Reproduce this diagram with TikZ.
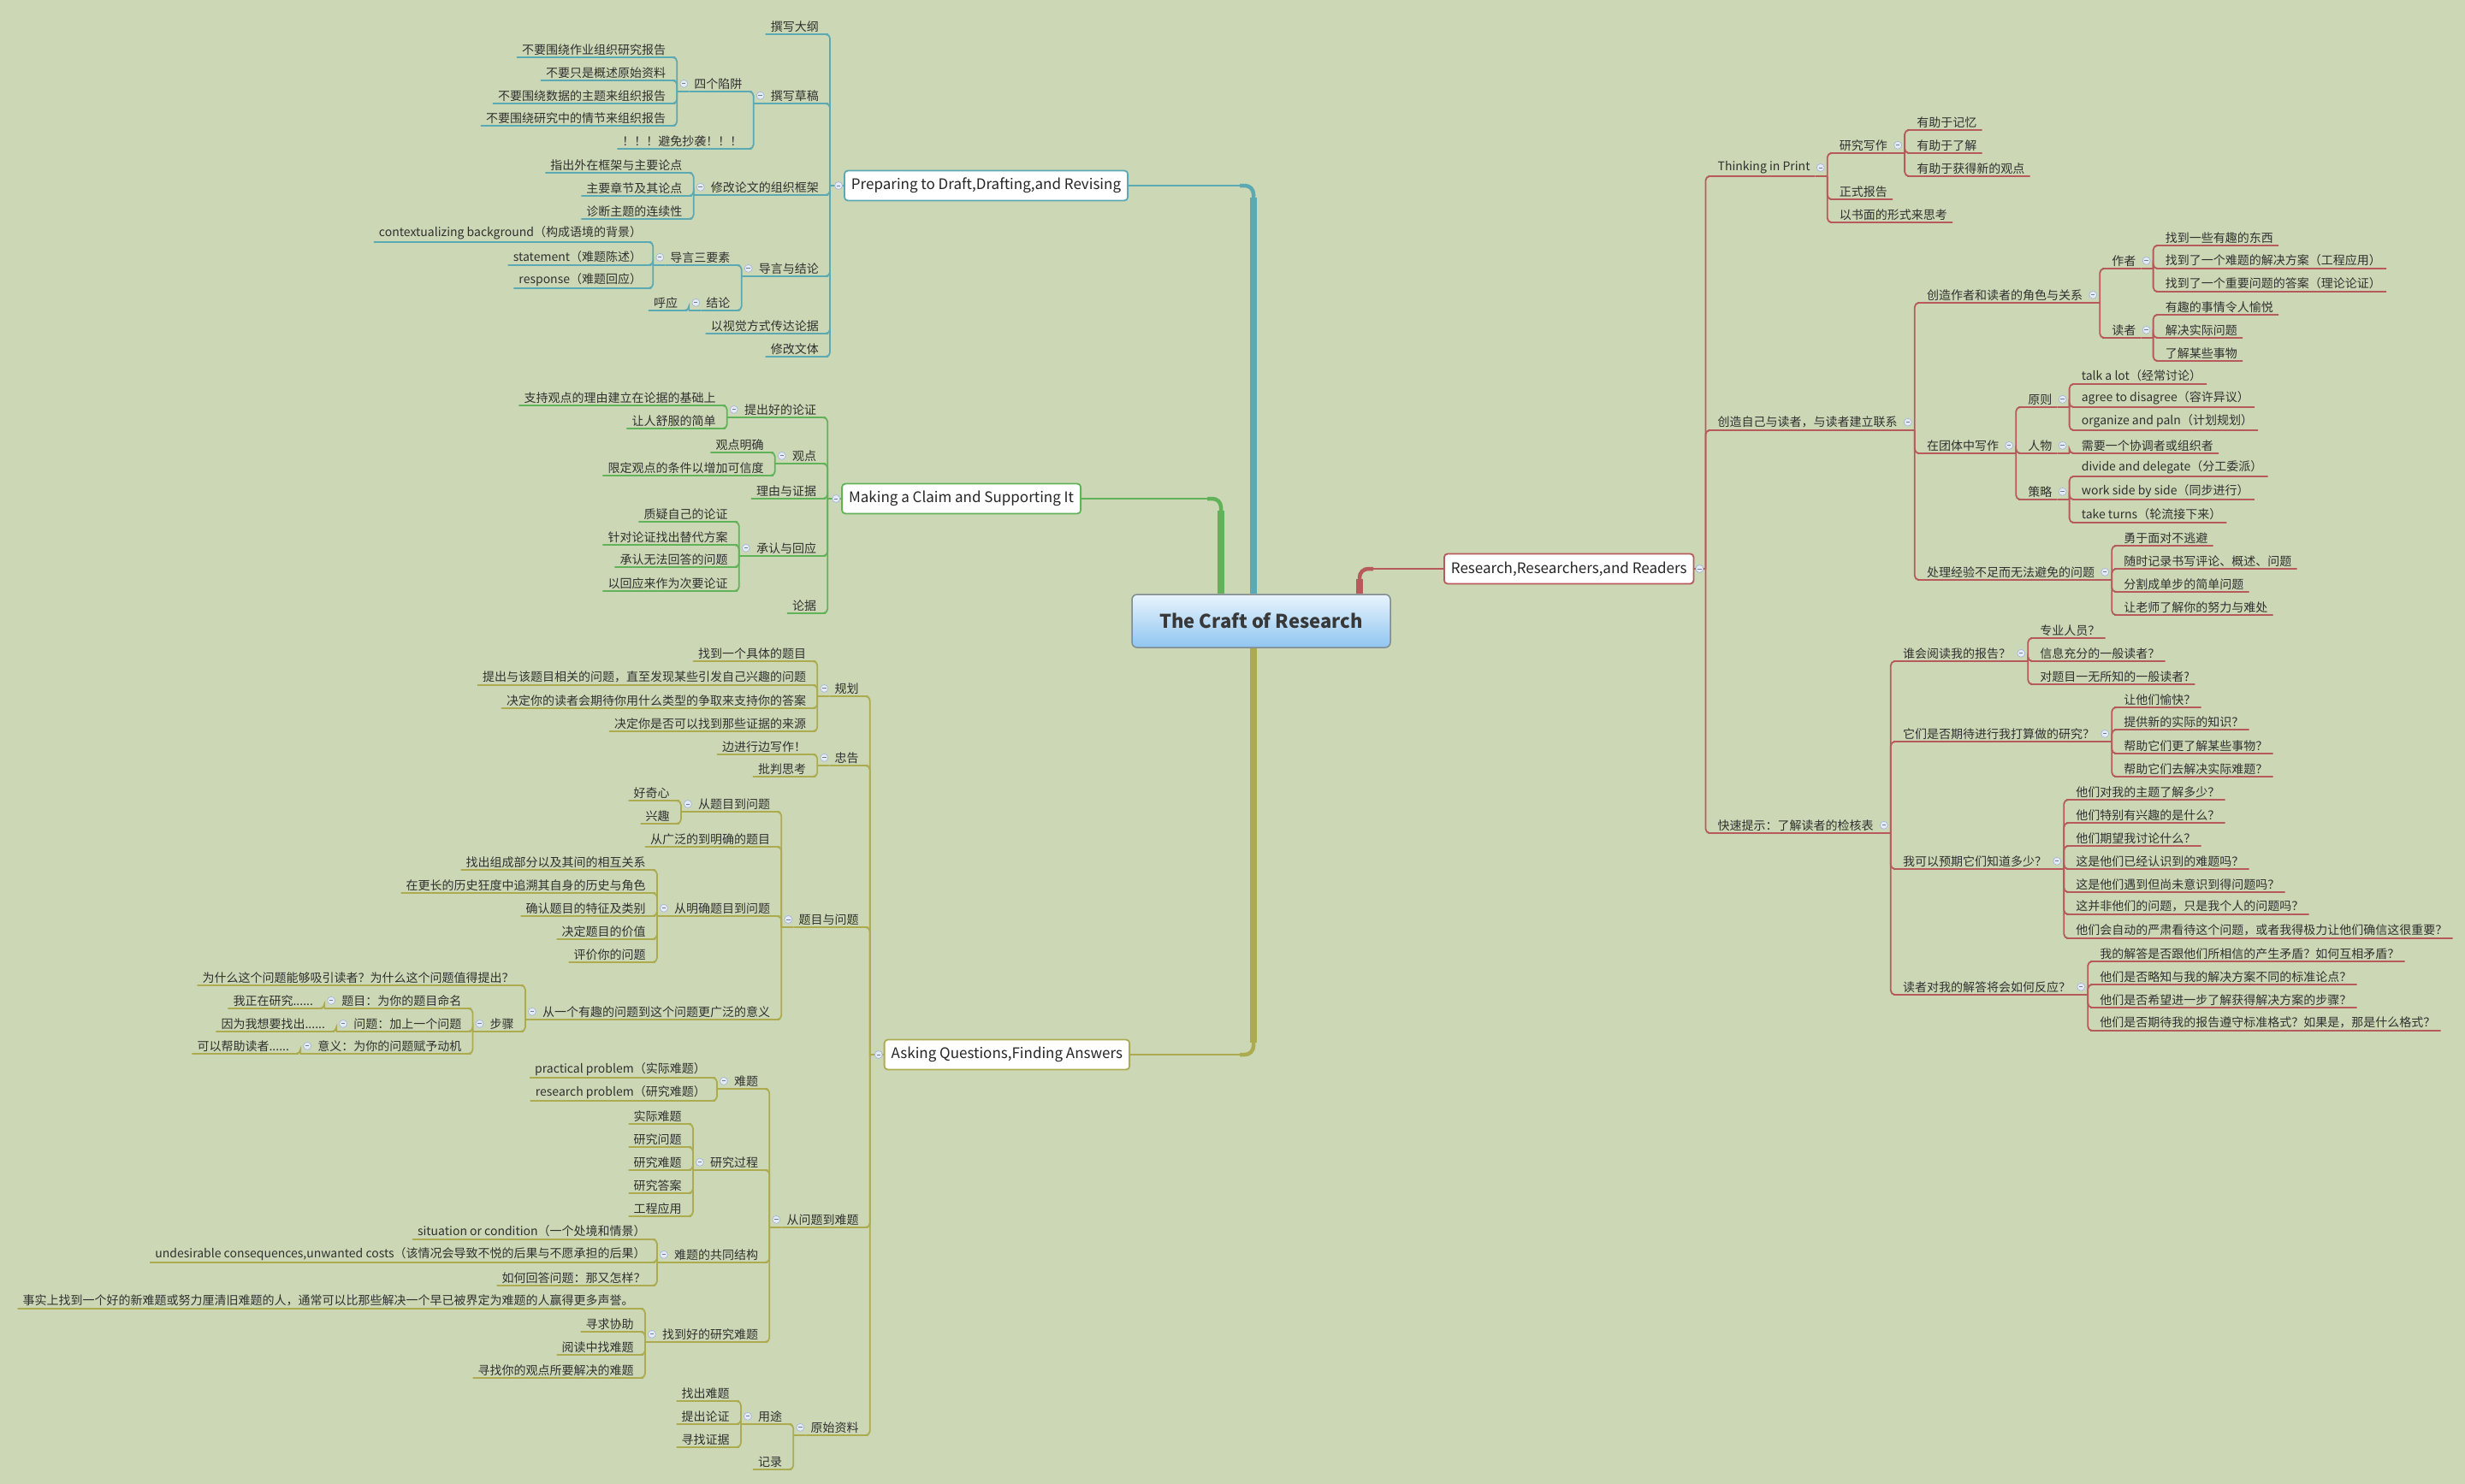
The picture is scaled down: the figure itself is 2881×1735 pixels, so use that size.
\documentclass[tikz,border=0pt]{standalone}
\usepackage{fontspec}
\setmainfont{Noto Sans CJK SC}
\usepackage{tikz}
\usetikzlibrary{positioning,calc}
\definecolor{bgcol}{HTML}{CCD8B5}
\definecolor{cteal}{HTML}{5BA9B3}
\definecolor{cgreen}{HTML}{62B25A}
\definecolor{colive}{HTML}{ADAB4F}
\definecolor{cred}{HTML}{B65A5C}
\definecolor{txtcol}{HTML}{303030}
\definecolor{rtop}{HTML}{E8F4FD}
\definecolor{rbot}{HTML}{90C5F0}
\definecolor{rline}{HTML}{7F8B90}
\definecolor{foldfill}{HTML}{E4EBF7}
\definecolor{foldline}{HTML}{9EB2D6}

\begin{document}
\begin{tikzpicture}[x=1pt, y=-1pt,
  topic/.style={inner xsep=6pt, inner ysep=2.5pt, text=txtcol, font=\fontsize{14}{16}\selectfont},
  tl/.style={topic, anchor=south east, xshift=-7pt},
  tr/.style={topic, anchor=south west, xshift=8pt},
  mainbox/.style={fill=white, rounded corners=4pt, line width=1.8pt, inner xsep=8pt, minimum height=35pt, text=black!85, font=\fontsize{17}{20}\selectfont},
  rootbox/.style={draw=rline, line width=1.5pt, rounded corners=6pt, top color=rtop, bottom color=rbot, minimum width=302pt, minimum height=62pt, text=black!78, font=\fontsize{22}{26}\selectfont\bfseries},
  foldmark/.style={circle, draw=foldline, fill=foldfill, line width=0.6pt, minimum size=9pt, inner sep=0pt,
    path picture={\draw[foldline!70!black, line width=0.9pt] ([xshift=-2.2pt]path picture bounding box.center) -- ([xshift=2.2pt]path picture bounding box.center);}},
  bteal/.style={draw=cteal, line width=1.8pt, rounded corners=5pt},
  bgreen/.style={draw=cgreen, line width=1.8pt, rounded corners=5pt},
  bolive/.style={draw=colive, line width=1.8pt, rounded corners=5pt},
  bred/.style={draw=cred, line width=1.8pt, rounded corners=5pt},
  trunkw/.style={line width=8pt},
  bendw/.style={line width=4.5pt, rounded corners=10pt},
  linkw/.style={line width=2pt}
]
  \fill[bgcol] (0,0) rectangle (2881,1735);
  \useasboundingbox (0,0) rectangle (2881,1735);

  %% Root
  \node[rootbox] (root) at (1474,726) {The Craft of Research};

  %% Preparing to Draft
  \node[mainbox, draw=cteal, anchor=east] (prep) at (1319,217) {Preparing to Draft,Drafting,and Revising};
  \coordinate (prep-s) at ([xshift=-16pt]prep.west);
  \node[tl] (p1) at (prep-s |- 0,40) {撰写大纲};
  \node[tl] (p2) at (prep-s |- 0,121) {撰写草稿};
  \coordinate (p2-s) at ([xshift=-14pt]p2.south west);
  \node[tl] (p21) at (p2-s |- 0,107) {四个陷阱};
  \coordinate (p21-s) at ([xshift=-14pt]p21.south west);
  \node[tl] (p211) at (p21-s |- 0,67) {不要围绕作业组织研究报告};
  \node[tl] (p212) at (p21-s |- 0,94) {不要只是概述原始资料};
  \node[tl] (p213) at (p21-s |- 0,121) {不要围绕数据的主题来组织报告};
  \node[tl] (p214) at (p21-s |- 0,147) {不要围绕研究中的情节来组织报告};
  \node[tl] (p22) at (p2-s |- 0,174) {！！！避免抄袭！！！};
  \node[tl] (p3) at (prep-s |- 0,228) {修改论文的组织框架};
  \coordinate (p3-s) at ([xshift=-14pt]p3.south west);
  \node[tl] (p31) at (p3-s |- 0,202) {指出外在框架与主要论点};
  \node[tl] (p32) at (p3-s |- 0,229) {主要章节及其论点};
  \node[tl] (p33) at (p3-s |- 0,256) {诊断主题的连续性};
  \node[tl] (p4) at (prep-s |- 0,323) {导言与结论};
  \coordinate (p4-s) at ([xshift=-14pt]p4.south west);
  \node[tl] (p41) at (p4-s |- 0,310) {导言三要素};
  \coordinate (p41-s) at ([xshift=-14pt]p41.south west);
  \node[tl] (p411) at (p41-s |- 0,283) {contextualizing background（构成语境的背景）};
  \node[tl] (p412) at (p41-s |- 0,310) {statement（难题陈述）};
  \node[tl] (p413) at (p41-s |- 0,337) {response（难题回应）};
  \node[tl] (p42) at (p4-s |- 0,363) {结论};
  \coordinate (p42-s) at ([xshift=-14pt]p42.south west);
  \node[tl] (p421) at (p42-s |- 0,363) {呼应};
  \node[tl] (p5) at (prep-s |- 0,390) {以视觉方式传达论据};
  \node[tl] (p6) at (prep-s |- 0,417) {修改文体};

  \draw[bteal] (prep.west) -- (prep-s);
  \foreach \a/\b in {prep/p1,prep/p2,prep/p3,prep/p4,prep/p5,prep/p6,p2/p21,p2/p22,p21/p211,p21/p212,p21/p213,p21/p214,
                     p3/p31,p3/p32,p3/p33,p4/p41,p4/p42,p41/p411,p41/p412,p41/p413,p42/p421}
    \draw[bteal] (\a-s) |- (\b.south east) -- (\b.south west);
  \foreach \p in {p2,p21,p3,p4,p41,p42}
    \draw[bteal] (\p.south west) -- (\p-s);

  %% Making a Claim
  \node[mainbox, draw=cgreen, anchor=east] (make) at (1264,583) {Making a Claim and Supporting It};
  \coordinate (make-s) at ([xshift=-16pt]make.west);
  \node[tl] (m1) at (make-s |- 0,488) {提出好的论证};
  \coordinate (m1-s) at ([xshift=-14pt]m1.south west);
  \node[tl] (m11) at (m1-s |- 0,474) {支持观点的理由建立在论据的基础上};
  \node[tl] (m12) at (m1-s |- 0,501) {让人舒服的简单};
  \node[tl] (m2) at (make-s |- 0,542) {观点};
  \coordinate (m2-s) at ([xshift=-14pt]m2.south west);
  \node[tl] (m21) at (m2-s |- 0,529) {观点明确};
  \node[tl] (m22) at (m2-s |- 0,556) {限定观点的条件以增加可信度};
  \node[tl] (m3) at (make-s |- 0,583) {理由与证据};
  \node[tl] (m4) at (make-s |- 0,650) {承认与回应};
  \coordinate (m4-s) at ([xshift=-14pt]m4.south west);
  \node[tl] (m41) at (m4-s |- 0,610) {质疑自己的论证};
  \node[tl] (m42) at (m4-s |- 0,637) {针对论证找出替代方案};
  \node[tl] (m43) at (m4-s |- 0,663) {承认无法回答的问题};
  \node[tl] (m44) at (m4-s |- 0,691) {以回应来作为次要论证};
  \node[tl] (m5) at (make-s |- 0,717) {论据};

  \draw[bgreen] (make.west) -- (make-s);
  \foreach \a/\b in {make/m1,make/m2,make/m3,make/m4,make/m5,m1/m11,m1/m12,m2/m21,m2/m22,m4/m41,m4/m42,m4/m43,m4/m44}
    \draw[bgreen] (\a-s) |- (\b.south east) -- (\b.south west);
  \foreach \p in {m1,m2,m4}
    \draw[bgreen] (\p.south west) -- (\p-s);

  %% Asking Questions
  \node[mainbox, draw=colive, anchor=east] (ask) at (1321,1233) {Asking Questions,Finding Answers};
  \coordinate (ask-s) at ([xshift=-16pt]ask.west);
  \node[tl] (a1) at (ask-s |- 0,814) {规划};
  \coordinate (a1-s) at ([xshift=-14pt]a1.south west);
  \node[tl] (a11) at (a1-s |- 0,773) {找到一个具体的题目};
  \node[tl] (a12) at (a1-s |- 0,801) {提出与该题目相关的问题，直至发现某些引发自己兴趣的问题};
  \node[tl] (a13) at (a1-s |- 0,828) {决定你的读者会期待你用什么类型的争取来支持你的答案};
  \node[tl] (a14) at (a1-s |- 0,855) {决定你是否可以找到那些证据的来源};
  \node[tl] (a2) at (ask-s |- 0,895) {忠告};
  \coordinate (a2-s) at ([xshift=-14pt]a2.south west);
  \node[tl] (a21) at (a2-s |- 0,882) {边进行边写作！};
  \node[tl] (a22) at (a2-s |- 0,908) {批判思考};
  \node[tl] (a3) at (ask-s |- 0,1084) {题目与问题};
  \coordinate (a3-s) at ([xshift=-14pt]a3.south west);
  \node[tl] (a31) at (a3-s |- 0,949) {从题目到问题};
  \coordinate (a31-s) at ([xshift=-14pt]a31.south west);
  \node[tl] (a311) at (a31-s |- 0,936) {好奇心};
  \node[tl] (a312) at (a31-s |- 0,963) {兴趣};
  \node[tl] (a32) at (a3-s |- 0,990) {从广泛的到明确的题目};
  \node[tl] (a33) at (a3-s |- 0,1071) {从明确题目到问题};
  \coordinate (a33-s) at ([xshift=-14pt]a33.south west);
  \node[tl] (a331) at (a33-s |- 0,1017) {找出组成部分以及其间的相互关系};
  \node[tl] (a332) at (a33-s |- 0,1044) {在更长的历史狂度中追溯其自身的历史与角色};
  \node[tl] (a333) at (a33-s |- 0,1071) {确认题目的特征及类别};
  \node[tl] (a334) at (a33-s |- 0,1098) {决定题目的价值};
  \node[tl] (a335) at (a33-s |- 0,1125) {评价你的问题};
  \node[tl] (a34) at (a3-s |- 0,1192) {从一个有趣的问题到这个问题更广泛的意义};
  \coordinate (a34-s) at ([xshift=-14pt]a34.south west);
  \node[tl] (a341) at (a34-s |- 0,1152) {为什么这个问题能够吸引读者？为什么这个问题值得提出？};
  \node[tl] (a342) at (a34-s |- 0,1206) {步骤};
  \coordinate (a342-s) at ([xshift=-14pt]a342.south west);
  \node[tl] (a3421) at (a342-s |- 0,1179) {题目：为你的题目命名};
  \coordinate (a3421-s) at ([xshift=-14pt]a3421.south west);
  \node[tl] (a34211) at (a3421-s |- 0,1179) {我正在研究......};
  \node[tl] (a3422) at (a342-s |- 0,1206) {问题：加上一个问题};
  \coordinate (a3422-s) at ([xshift=-14pt]a3422.south west);
  \node[tl] (a34221) at (a3422-s |- 0,1206) {因为我想要找出......};
  \node[tl] (a3423) at (a342-s |- 0,1232) {意义：为你的问题赋予动机};
  \coordinate (a3423-s) at ([xshift=-14pt]a3423.south west);
  \node[tl] (a34231) at (a3423-s |- 0,1232) {可以帮助读者......};
  \node[tl] (a4) at (ask-s |- 0,1435) {从问题到难题};
  \coordinate (a4-s) at ([xshift=-14pt]a4.south west);
  \node[tl] (a41) at (a4-s |- 0,1273) {难题};
  \coordinate (a41-s) at ([xshift=-14pt]a41.south west);
  \node[tl] (a411) at (a41-s |- 0,1260) {practical problem（实际难题）};
  \node[tl] (a412) at (a41-s |- 0,1287) {research problem（研究难题）};
  \node[tl] (a42) at (a4-s |- 0,1368) {研究过程};
  \coordinate (a42-s) at ([xshift=-14pt]a42.south west);
  \node[tl] (a421) at (a42-s |- 0,1314) {实际难题};
  \node[tl] (a422) at (a42-s |- 0,1341) {研究问题};
  \node[tl] (a423) at (a42-s |- 0,1368) {研究难题};
  \node[tl] (a424) at (a42-s |- 0,1395) {研究答案};
  \node[tl] (a425) at (a42-s |- 0,1422) {工程应用};
  \node[tl] (a43) at (a4-s |- 0,1476) {难题的共同结构};
  \coordinate (a43-s) at ([xshift=-14pt]a43.south west);
  \node[tl] (a431) at (a43-s |- 0,1449) {situation or condition（一个处境和情景）};
  \node[tl] (a432) at (a43-s |- 0,1476) {undesirable consequences,unwanted costs（该情况会导致不悦的后果与不愿承担的后果）};
  \node[tl] (a433) at (a43-s |- 0,1503) {如何回答问题：那又怎样？};
  \node[tl] (a44) at (a4-s |- 0,1569) {找到好的研究难题};
  \coordinate (a44-s) at ([xshift=-14pt]a44.south west);
  \node[tl] (a441) at (a44-s |- 0,1530) {事实上找到一个好的新难题或努力厘清旧难题的人，通常可以比那些解决一个早已被界定为难题的人赢得更多声誉。};
  \node[tl] (a442) at (a44-s |- 0,1557) {寻求协助};
  \node[tl] (a443) at (a44-s |- 0,1584) {阅读中找难题};
  \node[tl] (a444) at (a44-s |- 0,1611) {寻找你的观点所要解决的难题};
  \node[tl] (a5) at (ask-s |- 0,1678) {原始资料};
  \coordinate (a5-s) at ([xshift=-14pt]a5.south west);
  \node[tl] (a51) at (a5-s |- 0,1665) {用途};
  \coordinate (a51-s) at ([xshift=-14pt]a51.south west);
  \node[tl] (a511) at (a51-s |- 0,1638) {找出难题};
  \node[tl] (a512) at (a51-s |- 0,1665) {提出论证};
  \node[tl] (a513) at (a51-s |- 0,1692) {寻找证据};
  \node[tl] (a52) at (a5-s |- 0,1718) {记录};

  \draw[bolive] (ask.west) -- (ask-s);
  \foreach \a/\b in {ask/a1,ask/a2,ask/a3,ask/a4,ask/a5,a1/a11,a1/a12,a1/a13,a1/a14,a2/a21,a2/a22,
                     a3/a31,a3/a32,a3/a33,a3/a34,a31/a311,a31/a312,a33/a331,a33/a332,a33/a333,a33/a334,a33/a335,
                     a34/a341,a34/a342,a342/a3421,a342/a3422,a342/a3423,a3421/a34211,a3422/a34221,a3423/a34231,
                     a4/a41,a4/a42,a4/a43,a4/a44,a41/a411,a41/a412,a42/a421,a42/a422,a42/a423,a42/a424,a42/a425,
                     a43/a431,a43/a432,a43/a433,a44/a441,a44/a442,a44/a443,a44/a444,a5/a51,a5/a52,a51/a511,a51/a512,a51/a513}
    \draw[bolive] (\a-s) |- (\b.south east) -- (\b.south west);
  \foreach \p in {a1,a2,a3,a31,a33,a34,a342,a3421,a3422,a3423,a4,a41,a42,a43,a44,a5,a51}
    \draw[bolive] (\p.south west) -- (\p-s);

  %% Research, Researchers, and Readers
  \node[mainbox, draw=cred, anchor=west] (res) at (1687,665) {Research,Researchers,and Readers};
  \coordinate (res-s) at ([xshift=13pt]res.east);
  \node[tr] (r1) at (res-s |- 0,206) {Thinking in Print};
  \coordinate (r1-s) at ([xshift=14pt]r1.south east);
  \node[tr] (r11) at (r1-s |- 0,179) {研究写作};
  \coordinate (r11-s) at ([xshift=14pt]r11.south east);
  \node[tr] (r111) at (r11-s |- 0,152) {有助于记忆};
  \node[tr] (r112) at (r11-s |- 0,179) {有助于了解};
  \node[tr] (r113) at (r11-s |- 0,206) {有助于获得新的观点};
  \node[tr] (r12) at (r1-s |- 0,233) {正式报告};
  \node[tr] (r13) at (r1-s |- 0,260) {以书面的形式来思考};
  \node[tr] (r2) at (res-s |- 0,503) {创造自己与读者，与读者建立联系};
  \coordinate (r2-s) at ([xshift=14pt]r2.south east);
  \node[tr] (r21) at (r2-s |- 0,354) {创造作者和读者的角色与关系};
  \coordinate (r21-s) at ([xshift=14pt]r21.south east);
  \node[tr] (r211) at (r21-s |- 0,314) {作者};
  \coordinate (r211-s) at ([xshift=14pt]r211.south east);
  \node[tr] (r2111) at (r211-s |- 0,287) {找到一些有趣的东西};
  \node[tr] (r2112) at (r211-s |- 0,314) {找到了一个难题的解决方案（工程应用）};
  \node[tr] (r2113) at (r211-s |- 0,341) {找到了一个重要问题的答案（理论论证）};
  \node[tr] (r212) at (r21-s |- 0,395) {读者};
  \coordinate (r212-s) at ([xshift=14pt]r212.south east);
  \node[tr] (r2121) at (r212-s |- 0,368) {有趣的事情令人愉悦};
  \node[tr] (r2122) at (r212-s |- 0,395) {解决实际问题};
  \node[tr] (r2123) at (r212-s |- 0,422) {了解某些事物};
  \node[tr] (r22) at (r2-s |- 0,530) {在团体中写作};
  \coordinate (r22-s) at ([xshift=14pt]r22.south east);
  \node[tr] (r221) at (r22-s |- 0,476) {原则};
  \coordinate (r221-s) at ([xshift=14pt]r221.south east);
  \node[tr] (r2211) at (r221-s |- 0,449) {talk a lot（经常讨论）};
  \node[tr] (r2212) at (r221-s |- 0,476) {agree to disagree（容许异议）};
  \node[tr] (r2213) at (r221-s |- 0,503) {organize and paln（计划规划）};
  \node[tr] (r222) at (r22-s |- 0,530) {人物};
  \coordinate (r222-s) at ([xshift=14pt]r222.south east);
  \node[tr] (r2221) at (r222-s |- 0,530) {需要一个协调者或组织者};
  \node[tr] (r223) at (r22-s |- 0,584) {策略};
  \coordinate (r223-s) at ([xshift=14pt]r223.south east);
  \node[tr] (r2231) at (r223-s |- 0,557) {divide and delegate（分工委派）};
  \node[tr] (r2232) at (r223-s |- 0,584) {work side by side（同步进行）};
  \node[tr] (r2233) at (r223-s |- 0,611) {take turns（轮流接下来）};
  \node[tr] (r23) at (r2-s |- 0,678) {处理经验不足而无法避免的问题};
  \coordinate (r23-s) at ([xshift=14pt]r23.south east);
  \node[tr] (r231) at (r23-s |- 0,638) {勇于面对不逃避};
  \node[tr] (r232) at (r23-s |- 0,665) {随时记录书写评论、概述、问题};
  \node[tr] (r233) at (r23-s |- 0,692) {分割成单步的简单问题};
  \node[tr] (r234) at (r23-s |- 0,719) {让老师了解你的努力与难处};
  \node[tr] (r3) at (res-s |- 0,974) {快速提示：了解读者的检核表};
  \coordinate (r3-s) at ([xshift=14pt]r3.south east);
  \node[tr] (r31) at (r3-s |- 0,773) {谁会阅读我的报告？};
  \coordinate (r31-s) at ([xshift=14pt]r31.south east);
  \node[tr] (r311) at (r31-s |- 0,746) {专业人员？};
  \node[tr] (r312) at (r31-s |- 0,773) {信息充分的一般读者？};
  \node[tr] (r313) at (r31-s |- 0,800) {对题目一无所知的一般读者?};
  \node[tr] (r32) at (r3-s |- 0,867) {它们是否期待进行我打算做的研究？};
  \coordinate (r32-s) at ([xshift=14pt]r32.south east);
  \node[tr] (r321) at (r32-s |- 0,827) {让他们愉快？};
  \node[tr] (r322) at (r32-s |- 0,853) {提供新的实际的知识？};
  \node[tr] (r323) at (r32-s |- 0,881) {帮助它们更了解某些事物？};
  \node[tr] (r324) at (r32-s |- 0,908) {帮助它们去解决实际难题？};
  \node[tr] (r33) at (r3-s |- 0,1016) {我可以预期它们知道多少？};
  \coordinate (r33-s) at ([xshift=14pt]r33.south east);
  \node[tr] (r331) at (r33-s |- 0,935) {他们对我的主题了解多少？};
  \node[tr] (r332) at (r33-s |- 0,962) {他们特别有兴趣的是什么？};
  \node[tr] (r333) at (r33-s |- 0,989) {他们期望我讨论什么？};
  \node[tr] (r334) at (r33-s |- 0,1016) {这是他们已经认识到的难题吗？};
  \node[tr] (r335) at (r33-s |- 0,1043) {这是他们遇到但尚未意识到得问题吗？};
  \node[tr] (r336) at (r33-s |- 0,1069) {这并非他们的问题，只是我个人的问题吗？};
  \node[tr] (r337) at (r33-s |- 0,1097) {他们会自动的严肃看待这个问题，或者我得极力让他们确信这很重要？};
  \node[tr] (r34) at (r3-s |- 0,1163) {读者对我的解答将会如何反应？};
  \coordinate (r34-s) at ([xshift=14pt]r34.south east);
  \node[tr] (r341) at (r34-s |- 0,1124) {我的解答是否跟他们所相信的产生矛盾？如何互相矛盾？};
  \node[tr] (r342) at (r34-s |- 0,1151) {他们是否略知与我的解决方案不同的标准论点？};
  \node[tr] (r343) at (r34-s |- 0,1178) {他们是否希望进一步了解获得解决方案的步骤？};
  \node[tr] (r344) at (r34-s |- 0,1205) {他们是否期待我的报告遵守标准格式？如果是，那是什么格式？};

  \draw[bred] (res.east) -- (res-s);
  \foreach \a/\b in {res/r1,res/r2,res/r3,r1/r11,r1/r12,r1/r13,r11/r111,r11/r112,r11/r113,
                     r2/r21,r2/r22,r2/r23,r21/r211,r21/r212,r211/r2111,r211/r2112,r211/r2113,r212/r2121,r212/r2122,r212/r2123,
                     r22/r221,r22/r222,r22/r223,r221/r2211,r221/r2212,r221/r2213,r222/r2221,r223/r2231,r223/r2232,r223/r2233,
                     r23/r231,r23/r232,r23/r233,r23/r234,r3/r31,r3/r32,r3/r33,r3/r34,r31/r311,r31/r312,r31/r313,
                     r32/r321,r32/r322,r32/r323,r32/r324,r33/r331,r33/r332,r33/r333,r33/r334,r33/r335,r33/r336,r33/r337,
                     r34/r341,r34/r342,r34/r343,r34/r344}
    \draw[bred] (\a-s) |- (\b.south west) -- (\b.south east);
  \foreach \p in {r1,r11,r2,r21,r211,r212,r22,r221,r222,r223,r23,r3,r31,r32,r33,r34}
    \draw[bred] (\p.south east) -- (\p-s);

  %% Trunks from the root
  \coordinate (tk-prep) at (1465,217);
  \coordinate (tk-make) at (1427,583);
  \coordinate (tk-ask) at (1465,1233);
  \coordinate (tk-res) at (1589,665);
  \draw[cteal, trunkw] (root.north -| tk-prep) -- ([yshift=-14pt]tk-prep);
  \draw[cteal, bendw] ([yshift=-16pt]tk-prep) |- ([xshift=-16pt]tk-prep);
  \draw[cteal, linkw] ([xshift=-14pt]tk-prep) -- (prep.east);
  \draw[cgreen, trunkw] (root.north -| tk-make) -- ([yshift=-14pt]tk-make);
  \draw[cgreen, bendw] ([yshift=-16pt]tk-make) |- ([xshift=-16pt]tk-make);
  \draw[cgreen, linkw] ([xshift=-14pt]tk-make) -- (make.east);
  \draw[colive, trunkw] (root.south -| tk-ask) -- ([yshift=14pt]tk-ask);
  \draw[colive, bendw] ([yshift=16pt]tk-ask) |- ([xshift=-16pt]tk-ask);
  \draw[colive, linkw] ([xshift=-14pt]tk-ask) -- (ask.east);
  \draw[cred, trunkw] (root.north -| tk-res) -- ([yshift=-12pt]tk-res);
  \draw[cred, bendw] ([yshift=-14pt]tk-res) |- ([xshift=16pt]tk-res);
  \draw[cred, linkw] ([xshift=14pt]tk-res) -- (res.west);

  %% Fold markers
  \foreach \p in {prep,p2,p21,p3,p4,p41,p42,make,m1,m2,m4,ask,a1,a2,a3,a31,a33,a34,a342,a3421,a3422,a3423,a4,a41,a42,a43,a44,a5,a51}
    \node[foldmark] (f-\p) at ([xshift=-6pt]\p.west) {};
  \foreach \p in {res,r1,r11,r2,r21,r211,r212,r22,r221,r222,r223,r23,r3,r31,r32,r33,r34}
    \node[foldmark] (f-\p) at ([xshift=6pt]\p.east) {};
\end{tikzpicture}
\end{document}
